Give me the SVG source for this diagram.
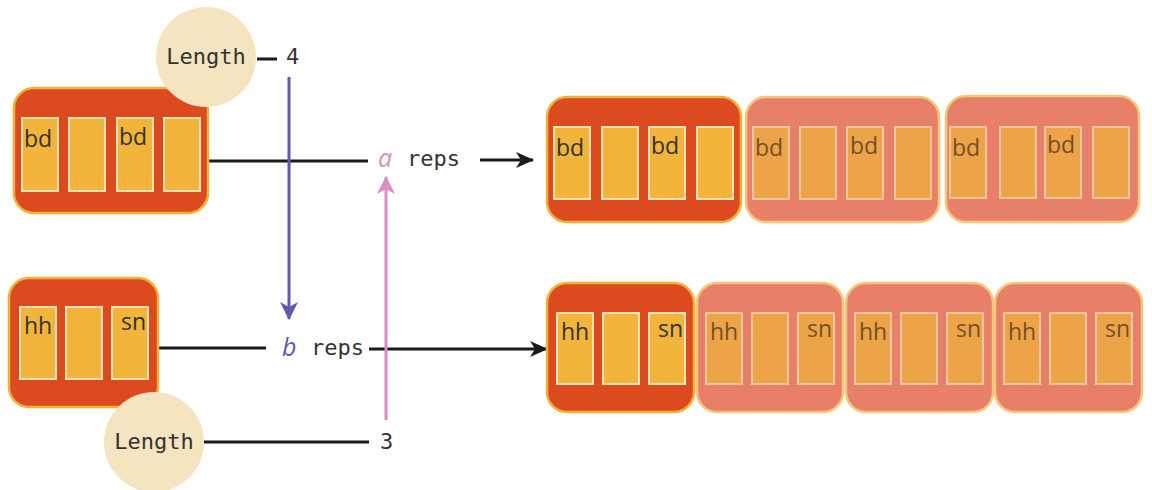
<svg xmlns="http://www.w3.org/2000/svg" width="1152" height="490" viewBox="0 0 1152 490">
<defs>
<style>
.box{fill:#dc4a20;stroke:#f2b035;stroke-width:2.5}
.fbox{fill:#e87f68;stroke:#f6c77a;stroke-width:2.5}
.cell{fill:#f2b43a;stroke:#f8e2b6;stroke-width:2}
.fcell{fill:#eda448;stroke:#f3c79e;stroke-width:2}
.lbl{font-family:"Open Sans","DejaVu Sans",sans-serif;font-size:23px;fill:#333}
.flbl{font-family:"Open Sans","DejaVu Sans",sans-serif;font-size:23px;fill:#735026}
.mono{font-family:"DejaVu Sans Mono","Liberation Mono",monospace;font-size:22px;fill:#333}
.var{font-family:"Open Sans","DejaVu Sans",sans-serif;font-style:italic;font-size:25px}
.circ{fill:#f5e4c0}
.ln{stroke:#1a1a1a;stroke-width:3;fill:none}
</style>
<marker id="ahB" viewBox="0 0 18 18" refX="17" refY="9" markerWidth="18" markerHeight="18" markerUnits="userSpaceOnUse" orient="auto">
<path d="M0,1 L18,9 L0,17 L5,9 z" fill="#1a1a1a"/>
</marker>
<marker id="ahV" viewBox="0 0 18 18" refX="17" refY="9" markerWidth="18" markerHeight="18" markerUnits="userSpaceOnUse" orient="auto">
<path d="M0,0 L18,9 L0,18 L5,9 z" fill="#5f5aad"/>
</marker>
<marker id="ahP" viewBox="0 0 18 18" refX="17" refY="9" markerWidth="18" markerHeight="18" markerUnits="userSpaceOnUse" orient="auto">
<path d="M0,0 L18,9 L0,18 L5,9 z" fill="#dd8bc3"/>
</marker>
</defs>
<rect width="1152" height="490" fill="#ffffff"/>

<g id="connectors">
<line class="ln" x1="208" y1="161" x2="368" y2="161"/>
<line class="ln" x1="257" y1="59" x2="277" y2="59"/>
<line class="ln" x1="158" y1="348" x2="266" y2="348"/>
<line class="ln" x1="204" y1="442" x2="369" y2="442"/>
<line class="ln" x1="480" y1="160" x2="533" y2="160" marker-end="url(#ahB)"/>
<line class="ln" x1="369" y1="349" x2="547" y2="349" marker-end="url(#ahB)"/>
<line x1="289" y1="77" x2="289" y2="319" stroke="#5f5aad" stroke-width="3" marker-end="url(#ahV)"/>
<line x1="386" y1="420" x2="386" y2="177" stroke="#dd8bc3" stroke-width="3" marker-end="url(#ahP)"/>
</g>

<g id="a-input">
<rect class="box" x="14" y="88" width="194" height="125" rx="20"/>
<rect class="cell" x="22" y="118" width="36" height="73"/>
<rect class="cell" x="69" y="118" width="36" height="73"/>
<rect class="cell" x="117" y="118" width="36" height="73"/>
<rect class="cell" x="164" y="118" width="36" height="73"/>
<text class="lbl" x="24" y="147">bd</text>
<text class="lbl" x="119" y="145">bd</text>
</g>

<g id="b-input">
<rect class="box" x="9" y="278" width="149" height="129" rx="20"/>
<rect class="cell" x="20" y="307" width="36" height="72"/>
<rect class="cell" x="66" y="307" width="36" height="72"/>
<rect class="cell" x="112" y="307" width="36" height="72"/>
<text class="lbl" x="24" y="334">hh</text>
<text class="lbl" x="146" y="330" text-anchor="end">sn</text>
</g>

<g id="length-a">
<circle class="circ" cx="206" cy="57" r="50"/>
<text class="mono" x="206" y="64" text-anchor="middle">Length</text>
</g>
<g id="num-4"><text class="mono" x="286" y="64">4</text></g>

<g id="length-b">
<circle class="circ" cx="154" cy="442" r="50"/>
<text class="mono" x="154" y="449" text-anchor="middle">Length</text>
</g>
<g id="num-3"><text class="mono" x="380" y="449">3</text></g>

<g id="a-reps">
<text class="var" x="378" y="167" fill="#dd8bc3">a</text>
<text class="mono" x="407" y="166">reps</text>
</g>
<g id="b-reps">
<text class="var" x="282" y="356" fill="#5f5aad">b</text>
<text class="mono" x="311" y="355">reps</text>
</g>

<g id="a-out-1">
<rect class="box" x="547" y="97" width="194" height="125" rx="20"/>
<rect class="cell" x="554" y="127" width="36" height="72"/>
<rect class="cell" x="602" y="127" width="36" height="72"/>
<rect class="cell" x="649" y="127" width="36" height="72"/>
<rect class="cell" x="697" y="127" width="36" height="72"/>
<text class="lbl" x="556" y="156">bd</text>
<text class="lbl" x="651" y="154">bd</text>
</g>
<g id="a-out-2">
<rect class="fbox" x="746" y="97" width="193" height="125" rx="20"/>
<rect class="fcell" x="753" y="127" width="36" height="72"/>
<rect class="fcell" x="800" y="127" width="36" height="72"/>
<rect class="fcell" x="847" y="127" width="36" height="72"/>
<rect class="fcell" x="895" y="127" width="36" height="72"/>
<text class="flbl" x="755" y="156">bd</text>
<text class="flbl" x="850" y="154">bd</text>
</g>
<g id="a-out-3">
<rect class="fbox" x="946" y="96" width="193" height="126" rx="20"/>
<rect class="fcell" x="950" y="127" width="36" height="71"/>
<rect class="fcell" x="1000" y="127" width="36" height="71"/>
<rect class="fcell" x="1045" y="127" width="36" height="71"/>
<rect class="fcell" x="1093" y="127" width="36" height="71"/>
<text class="flbl" x="952" y="156">bd</text>
<text class="flbl" x="1047" y="153">bd</text>
</g>

<g id="b-out-1">
<rect class="box" x="547" y="283" width="147" height="129" rx="20"/>
<rect class="cell" x="557" y="313" width="36" height="71"/>
<rect class="cell" x="603" y="313" width="36" height="71"/>
<rect class="cell" x="649" y="313" width="36" height="71"/>
<text class="lbl" x="561" y="340">hh</text>
<text class="lbl" x="683" y="337" text-anchor="end">sn</text>
</g>
<g id="b-out-2">
<rect class="fbox" x="697" y="283" width="146" height="129" rx="20"/>
<rect class="fcell" x="706" y="313" width="36" height="71"/>
<rect class="fcell" x="752" y="313" width="36" height="71"/>
<rect class="fcell" x="798" y="313" width="36" height="71"/>
<text class="flbl" x="710" y="340">hh</text>
<text class="flbl" x="832" y="337" text-anchor="end">sn</text>
</g>
<g id="b-out-3">
<rect class="fbox" x="846" y="283" width="147" height="129" rx="20"/>
<rect class="fcell" x="855" y="313" width="36" height="71"/>
<rect class="fcell" x="901" y="313" width="36" height="71"/>
<rect class="fcell" x="947" y="313" width="36" height="71"/>
<text class="flbl" x="859" y="340">hh</text>
<text class="flbl" x="981" y="337" text-anchor="end">sn</text>
</g>
<g id="b-out-4">
<rect class="fbox" x="995" y="283" width="147" height="129" rx="20"/>
<rect class="fcell" x="1004" y="313" width="36" height="71"/>
<rect class="fcell" x="1050" y="313" width="36" height="71"/>
<rect class="fcell" x="1096" y="313" width="36" height="71"/>
<text class="flbl" x="1008" y="340">hh</text>
<text class="flbl" x="1130" y="337" text-anchor="end">sn</text>
</g>
</svg>
